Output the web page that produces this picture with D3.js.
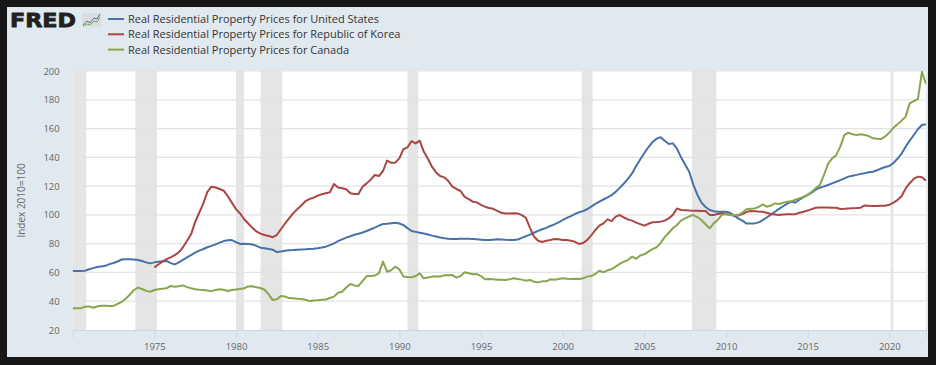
<!DOCTYPE html>
<html>
<head>
<meta charset="utf-8">
<script src="https://cdn.jsdelivr.net/npm/d3@7"></script>
<style>
  body { margin: 0; background: #171717; }
  svg { display: block; font-family: "Open Sans", sans-serif; }
</style>
</head>
<body>
<svg width="936" height="365"></svg>
<script>
// ---------------- data (quarterly, index 2010=100) ----------------
const usStart = "1970-01-01";
const koreaStart = "1975-01-01";
const canadaStart = "1970-01-01";

const usValues = [
  61, 61, 61, 61.2,  62.2, 63, 63.8, 64.2,  64.6, 65.8, 66.6, 67.6,  69, 69.1, 69.1, 69,
  68.6, 68, 67, 66.3,  67, 67.5, 67.8, 68,  66.5, 65.6, 67, 68.8,  70.5, 72, 73.8, 75.2,
  76.3, 77.5, 78.5, 79.5,  80.7, 81.8, 82.3, 82.5,  81, 79.8, 80, 79.8,  79.5, 78.5, 77.2, 76.8,
  76.3, 75.8, 74.2, 74.5,  75.1, 75.5, 75.6, 75.8,  76, 76.1, 76.3, 76.4,  76.8, 77.3, 77.9, 79,
  80.2, 81.8, 83, 84.2,  85.2, 86.2, 86.9, 87.8,  88.8, 90, 91.2, 92.5,  93.7, 93.9, 94.2, 94.6,
  94, 93, 90.8, 88.8,  88.2, 87.6, 87, 86.4,  85.6, 85, 84.3, 83.7,  83.4, 83.2, 83.3, 83.5,
  83.5, 83.4, 83.2, 83,  82.8, 82.5, 82.6, 82.8,  83, 82.9, 82.7, 82.6,  82.5, 82.9, 84, 85.2,
  86.3, 87.6, 88.9, 90,  91, 92.3, 93.4, 94.8,  96.4, 97.9, 99.2, 100.6,  101.8, 102.6, 103.9, 105.8,
  107.6, 109.2, 110.7, 112.2,  113.8, 116, 118.8, 121.8,  125, 128.8, 134, 138.5,  143, 147, 150.5, 153,
  154, 151.5, 149.3, 149.7,  146, 140, 135, 130,  121, 114, 108.5, 105.5,  103.4, 102.6, 102.2, 102.2,
  102.2, 101.5, 99.5, 97.6,  96, 94.1, 94, 94.1,  94.8, 96.4, 98.2, 100.2,  102.2, 104.2, 106, 107.8,
  109.2, 108.6, 110.5, 112.5,  113.8, 115.5, 117.5, 118.9,  119.8, 120.8, 121.9, 123,  124.2, 125.4, 126.6, 127.2,
  127.8, 128.5, 129, 129.6,  130, 131, 132.2, 133.3,  134, 136, 139, 142.5,  147.4, 151.5, 155.5, 159.5,
  162.5, 163
];

const koreaValues = [
  63.5, 65.5, 67.5, 69.3,  70.5, 72, 74, 77.5,  82, 86.5, 95, 101.5,  108, 116, 119.6, 119,
  118, 116.8, 113, 108.5,  104, 101, 97, 94,  91, 88.5, 87, 86,  85.3, 84.5, 86, 90,
  94, 97.5, 101, 104,  106.5, 109.5, 111, 112,  113.4, 114.3, 115, 115.7,  121.5, 119, 118.5, 117.8,
  115, 114.5, 114.5, 119.6,  121.9, 124.5, 127.7, 127,  130.5, 137.7, 136.3, 136.3,  139.3, 145.6, 146.9, 151.3,
  149.7, 151.6, 144, 139,  133.5, 129.5, 127, 126.1,  123.5, 119.6, 118, 116.6,  112.5, 111, 109.2, 108.7,
  107, 105.7, 104.8, 104.2,  102.8, 101.5, 101, 101,  101.1, 101, 99.8, 98,  91, 85, 82, 81.2,
  82, 82.5, 83.2, 83,  82.5, 82.6, 82.1, 81.3,  79.8, 80.4, 82.5, 85.8,  89.5, 92.5, 94.1, 96.9,
  95.7, 98.8, 99.9, 98.2,  96.9, 96, 94.6, 93.6,  92.5, 93.8, 94.8, 95,  95.3, 96, 97.6, 100,
  104.5, 103.4, 103.2, 103,  102.9, 102.9, 102.7, 102.7,  100, 99.9, 100.6, 101.1,  100.6, 99.9, 99.6, 99.5,
  100.5, 102, 102.7, 102.5,  102.3, 102.2, 101.5, 100.6,  100.3, 100, 100.2, 100.4,  100.4, 100.5, 101.5, 102.2,
  103, 104, 105, 105.2,  105.2, 105.1, 105, 105,  104.1, 104.2, 104.5, 104.7,  104.8, 105, 106.6, 106.3,
  106.2, 106.2, 106.3, 106.4,  107, 108.5, 110.3, 113,  118.4, 122, 125, 126.6,  126.1, 123.8
];

const canadaValues = [
  35.1, 35.1, 35.1, 36.2,  36.4, 35.5, 36.3, 36.9,  36.9, 36.7, 36.7, 38.2,  39.5, 41.8, 44.5, 47.8,
  49.4, 48.5, 47.2, 46.6,  47.8, 48.3, 48.7, 49,  50.6, 50.1, 50.4, 51,  49.8, 49, 48.3, 48,
  47.8, 47.5, 47, 47.8,  48.3, 48, 47.1, 47.8,  48.2, 48.5, 49, 50.3,  50.4, 49.7, 49.2, 48,
  44.8, 40.8, 41.3, 43.6,  43.3, 42.2, 42, 41.8,  41.5, 41, 40.2, 40.5,  40.7, 41, 41.2, 42.2,
  43.2, 45.9, 46.6, 49.5,  52, 51, 50.6, 54,  57.5, 57.6, 57.8, 59.5,  67.5, 60.5, 61.5, 64,
  62.2, 57.1, 56.8, 56.6,  57.5, 59.4, 55.9, 56.5,  57.1, 57.1, 57.1, 58,  58.1, 58.2, 56.4, 57.5,
  60.1, 59.5, 58.7, 58.9,  57.5, 55.2, 55.4, 55.3,  54.9, 55, 54.7, 55.2,  55.9, 55.5, 55, 54.3,
  54.8, 53.5, 53.1, 53.8,  53.8, 55.2, 54.9, 55.5,  55.9, 55.7, 55.5, 55.6,  55.4, 55.9, 57.1, 57.5,
  59, 61.2, 60.1, 61.5,  62.2, 64, 65.9, 67.5,  68.6, 71, 69.5, 71.8,  72.6, 74.5, 76.2, 77.5,
  80.5, 84.5, 87.6, 90.7,  93, 96, 97.6, 99,  99.9, 98.5, 96.4, 93.5,  90.7, 94.1, 96.5, 100,
  100.6, 99.9, 99.9, 99.9,  101.5, 103.9, 104.3, 104.5,  105.5, 107.3, 105.7, 106.5,  108, 107.6, 108.4, 109.2,
  109.4, 110.5, 111.5, 112.2,  114, 116.1, 118.5, 120.8,  127.7, 135.5, 139.3, 141.5,  147.4, 155.5, 157.1, 156,
  155.5, 156, 155.5, 154.8,  153.2, 152.9, 152.7, 154.5,  157.1, 160.5, 162.9, 165.5,  168.3, 177.5, 179, 180.5,
  199.5, 191
];

const seriesNames = [
  "Real Residential Property Prices for United States",
  "Real Residential Property Prices for Republic of Korea",
  "Real Residential Property Prices for Canada"
];
const seriesColors = ["#4572a7", "#aa4643", "#89a54e"];

// US recessions (start, end)
const recessions = [
  ["1969-12-01", "1970-11-01"], ["1973-11-01", "1975-03-01"], ["1980-01-01", "1980-07-01"],
  ["1981-07-01", "1982-11-01"], ["1990-07-01", "1991-03-01"], ["2001-03-01", "2001-11-01"],
  ["2007-12-01", "2009-06-01"], ["2020-02-01", "2020-04-01"]
];

const yTicks = [20, 40, 60, 80, 100, 120, 140, 160, 180, 200];
const xTickYears = [1975, 1980, 1985, 1990, 1995, 2000, 2005, 2010, 2015, 2020];

// ---------------- layout ----------------
const width = 936, height = 365;
const plot = { left: 72.7, right: 926, top: 71, bottom: 330 };

let svg = d3.select("svg");
let parse = d3.utcParse("%Y-%m-%d");

// turn a start date + list of values into quarterly points
function toPoints(start, values) {
  let d0 = parse(start);
  return values.map((v, i) => ({ date: d3.utcMonth.offset(d0, i * 3), value: v }));
}

let series = [
  toPoints(usStart, usValues),
  toPoints(koreaStart, koreaValues),
  toPoints(canadaStart, canadaValues)
];

let x = d3.scaleUtc()
  .domain([parse("1970-01-01"), parse("2022-04-01")])
  .range([plot.left, plot.right]);

let y = d3.scaleLinear()
  .domain([20, 200])
  .range([plot.bottom, plot.top]);

// panel background
svg.append("rect")
  .attr("x", 7).attr("y", 7)
  .attr("width", 921).attr("height", 350)
  .attr("fill", "#e1e9f0");

// white plot area
svg.append("rect")
  .attr("x", plot.left).attr("y", plot.top)
  .attr("width", plot.right - plot.left).attr("height", plot.bottom - plot.top)
  .attr("fill", "#ffffff");

svg.append("defs").append("clipPath")
  .attr("id", "plot-clip")
  .append("rect")
  .attr("x", plot.left).attr("y", plot.top)
  .attr("width", plot.right - plot.left).attr("height", plot.bottom - plot.top);

// recession shading
svg.append("g")
  .attr("clip-path", "url(#plot-clip)")
  .selectAll("rect")
  .data(recessions)
  .enter()
  .append("rect")
  .attr("x", d => x(parse(d[0])))
  .attr("width", d => x(parse(d[1])) - x(parse(d[0])))
  .attr("y", plot.top)
  .attr("height", plot.bottom - plot.top)
  .attr("fill", "#e5e5e5");

// horizontal grid
svg.append("g")
  .selectAll("line")
  .data(yTicks.filter(t => t > 20))
  .enter()
  .append("line")
  .attr("x1", plot.left).attr("x2", plot.right)
  .attr("y1", d => y(d)).attr("y2", d => y(d))
  .attr("stroke", "#e3e3e3")
  .attr("stroke-width", 1.2);

// y axis labels
let yAxis = d3.axisLeft(y).tickValues(yTicks).tickSize(0).tickPadding(13);
let yg = svg.append("g")
  .attr("transform", "translate(" + plot.left + ",0)")
  .call(yAxis);
yg.select(".domain").remove();
yg.selectAll("text")
  .attr("fill", "#666666")
  .attr("font-size", 9.5)
  .attr("font-family", "Open Sans");

// x axis
let xAxis = d3.axisBottom(x)
  .tickValues(xTickYears.map(yr => new Date(Date.UTC(yr, 0, 1))))
  .tickFormat(d3.utcFormat("%Y"))
  .tickSize(8)
  .tickPadding(5);
let xg = svg.append("g")
  .attr("transform", "translate(0," + plot.bottom + ")")
  .call(xAxis);
xg.select(".domain").attr("stroke", "#ccd6eb");
xg.selectAll(".tick line").attr("stroke", "#ccd6eb");
xg.selectAll("text")
  .attr("fill", "#666666")
  .attr("font-size", 9.5)
  .attr("font-family", "Open Sans");

// y axis title
svg.append("text")
  .attr("transform", "translate(25," + ((plot.top + plot.bottom) / 2) + ") rotate(-90)")
  .attr("text-anchor", "middle")
  .attr("fill", "#666666")
  .attr("font-size", 10)
  .text("Index 2010=100");

// series lines
let line = d3.line()
  .x(d => x(d.date))
  .y(d => y(d.value));

svg.append("g")
  .attr("clip-path", "url(#plot-clip)")
  .selectAll("path")
  .data(series)
  .enter()
  .append("path")
  .attr("d", line)
  .attr("fill", "none")
  .attr("stroke", (d, i) => seriesColors[i])
  .attr("stroke-width", 2)
  .attr("stroke-linejoin", "round");

//-------------------Legend-----------------------------//
let legend = svg.append("g").attr("transform", "translate(108,19)");
let rows = legend.selectAll("g")
  .data(seriesNames)
  .enter()
  .append("g")
  .attr("transform", (d, i) => "translate(0," + (i * 15.3) + ")");
rows.append("line")
  .attr("x1", 0).attr("x2", 16)
  .attr("stroke", (d, i) => seriesColors[i])
  .attr("stroke-width", 2);
rows.append("text")
  .attr("x", 20)
  .attr("y", 4)
  .attr("font-size", 11)
  .attr("fill", "#333333")
  .text(d => d);

//-------------------FRED logo-----------------------------//
svg.append("text")
  .attr("x", 10)
  .attr("y", 27)
  .attr("font-size", 20)
  .attr("font-weight", "bold")
  .attr("font-family", "DejaVu Sans")
  .attr("textLength", 66)
  .attr("lengthAdjust", "spacingAndGlyphs")
  .attr("fill", "#231f20")
  .attr("stroke", "#231f20")
  .attr("stroke-width", 0.8)
  .text("FRED");

let icon = svg.append("g").attr("transform", "translate(82,13)");
icon.append("rect")
  .attr("width", 19).attr("height", 14)
  .attr("fill", "#d9dde0");
icon.append("polyline")
  .attr("points", "1,12 5,8 8,10 12,5 15,6 18,1")
  .attr("fill", "none").attr("stroke", "#4572a7").attr("stroke-width", 1);
icon.append("polyline")
  .attr("points", "1,13 5,11 8,12 12,8 15,9 18,4")
  .attr("fill", "none").attr("stroke", "#89a54e").attr("stroke-width", 1);
//------------------------------------------------//
</script>
</body>
</html>
